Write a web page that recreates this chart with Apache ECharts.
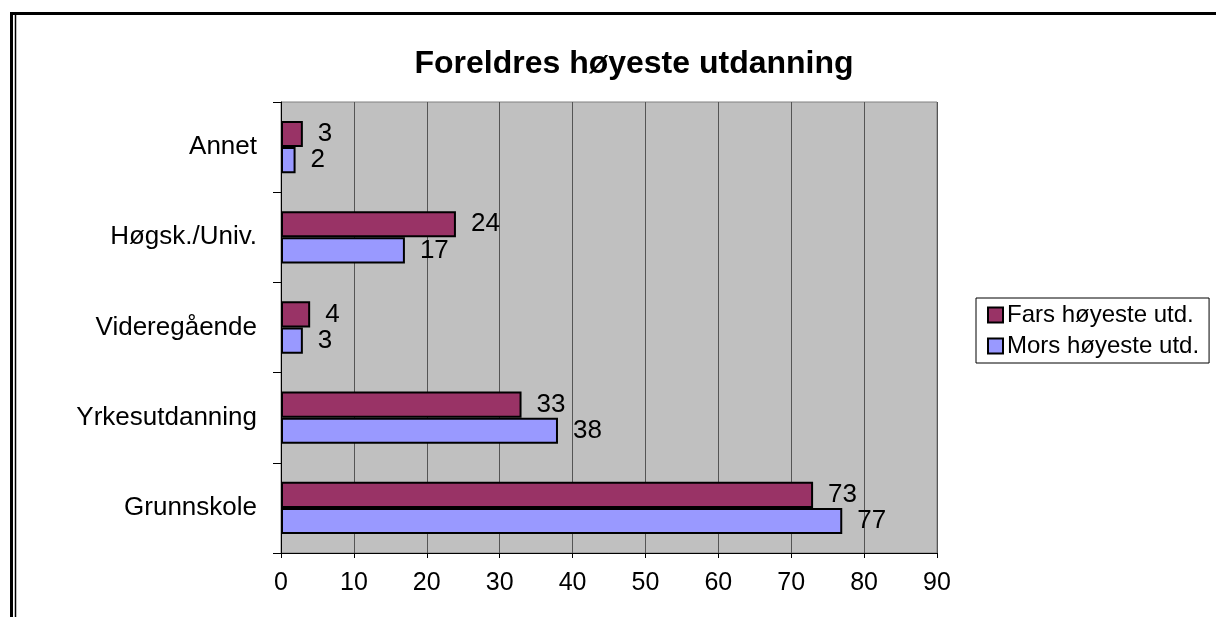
<!DOCTYPE html>
<html>
<head>
<meta charset="utf-8">
<script src="https://cdn.jsdelivr.net/npm/echarts@6/dist/echarts.min.js"></script>
<style>
  html, body { margin: 0; padding: 0; background: #fff; }
  #chart { width: 1216px; height: 617px; }
</style>
</head>
<body>
<div id="chart"></div>
<script>
var categories = ["Grunnskole", "Yrkesutdanning", "Videregående", "Høgsk./Univ.", "Annet"];
var farsValues = [73, 33, 4, 24, 3];
var morsValues = [77, 38, 3, 17, 2];
var xTicks = [0, 10, 20, 30, 40, 50, 60, 70, 80, 90];

var myChart = echarts.init(document.getElementById("chart"));
var font = "Liberation Sans, Arial, sans-serif";
var option = {
    backgroundColor: "#ffffff",
    animation: false,
    textStyle: { fontFamily: font },
    title: {
        text: "Foreldres høyeste utdanning",
        left: 629,
        top: 43,
        textAlign: "center",
        textStyle: { fontSize: 32, fontWeight: "bold", color: "#000", fontFamily: font }
    },
    legend: {
        data: ["Fars høyeste utd.", "Mors høyeste utd."],
        orient: "vertical",
        left: 976,
        top: 298,
        padding: [5, 10, 5, 11],
        itemGap: 7,
        itemWidth: 15,
        itemHeight: 15,
        icon: "rect",
        borderColor: "#000",
        borderWidth: 1,
        textStyle: { fontSize: 24, color: "#000", fontFamily: font, padding: [0, 0, 0, -1] }
    },
    graphic: [
        { type: "line", shape: { x1: 11.5, y1: 12, x2: 11.5, y2: 617 }, style: { stroke: "#000", lineWidth: 3 } },
        { type: "line", shape: { x1: 15.5, y1: 15, x2: 15.5, y2: 617 }, style: { stroke: "#000", lineWidth: 1.5 } },
        { type: "line", shape: { x1: 10, y1: 13.5, x2: 1216, y2: 13.5 }, style: { stroke: "#000", lineWidth: 3 } }
    ],
    grid: {
        left: 281,
        right: 279,
        top: 102,
        bottom: 64,
        show: true,
        backgroundColor: "#c0c0c0",
        borderColor: "#808080",
        borderWidth: 1
    },
    xAxis: {
        type: "value",
        min: xTicks[0],
        max: xTicks[xTicks.length - 1],
        interval: 10,
        axisLine: { show: true, lineStyle: { color: "#000", width: 1 } },
        axisTick: { show: true, length: 5, lineStyle: { color: "#000" } },
        axisLabel: { fontSize: 25, color: "#000", margin: 18, fontFamily: font },
        splitLine: { show: true, lineStyle: { color: "#555", width: 1 } }
    },
    yAxis: {
        type: "category",
        data: categories,
        axisLine: { show: true, lineStyle: { color: "#000", width: 1 } },
        axisTick: { show: true, length: 8, inside: false, lineStyle: { color: "#000" } },
        axisLabel: { fontSize: 26, color: "#000", margin: 24, fontFamily: font },
        splitLine: { show: false }
    },
    series: [
        {
            name: "Fars høyeste utd.",
            type: "bar",
            data: farsValues,
            barGap: "0%",
            barCategoryGap: "42%",
            itemStyle: { color: "#993366", borderColor: "#000", borderWidth: 2 },
            label: { show: true, position: "right", distance: 15, fontSize: 26, color: "#000", fontFamily: font }
        },
        {
            name: "Mors høyeste utd.",
            type: "bar",
            data: morsValues,
            barGap: "0%",
            barCategoryGap: "42%",
            itemStyle: { color: "#9999ff", borderColor: "#000", borderWidth: 2 },
            label: { show: true, position: "right", distance: 15, fontSize: 26, color: "#000", fontFamily: font }
        }
    ]
};
myChart.setOption(option, true);
</script>
</body>
</html>
